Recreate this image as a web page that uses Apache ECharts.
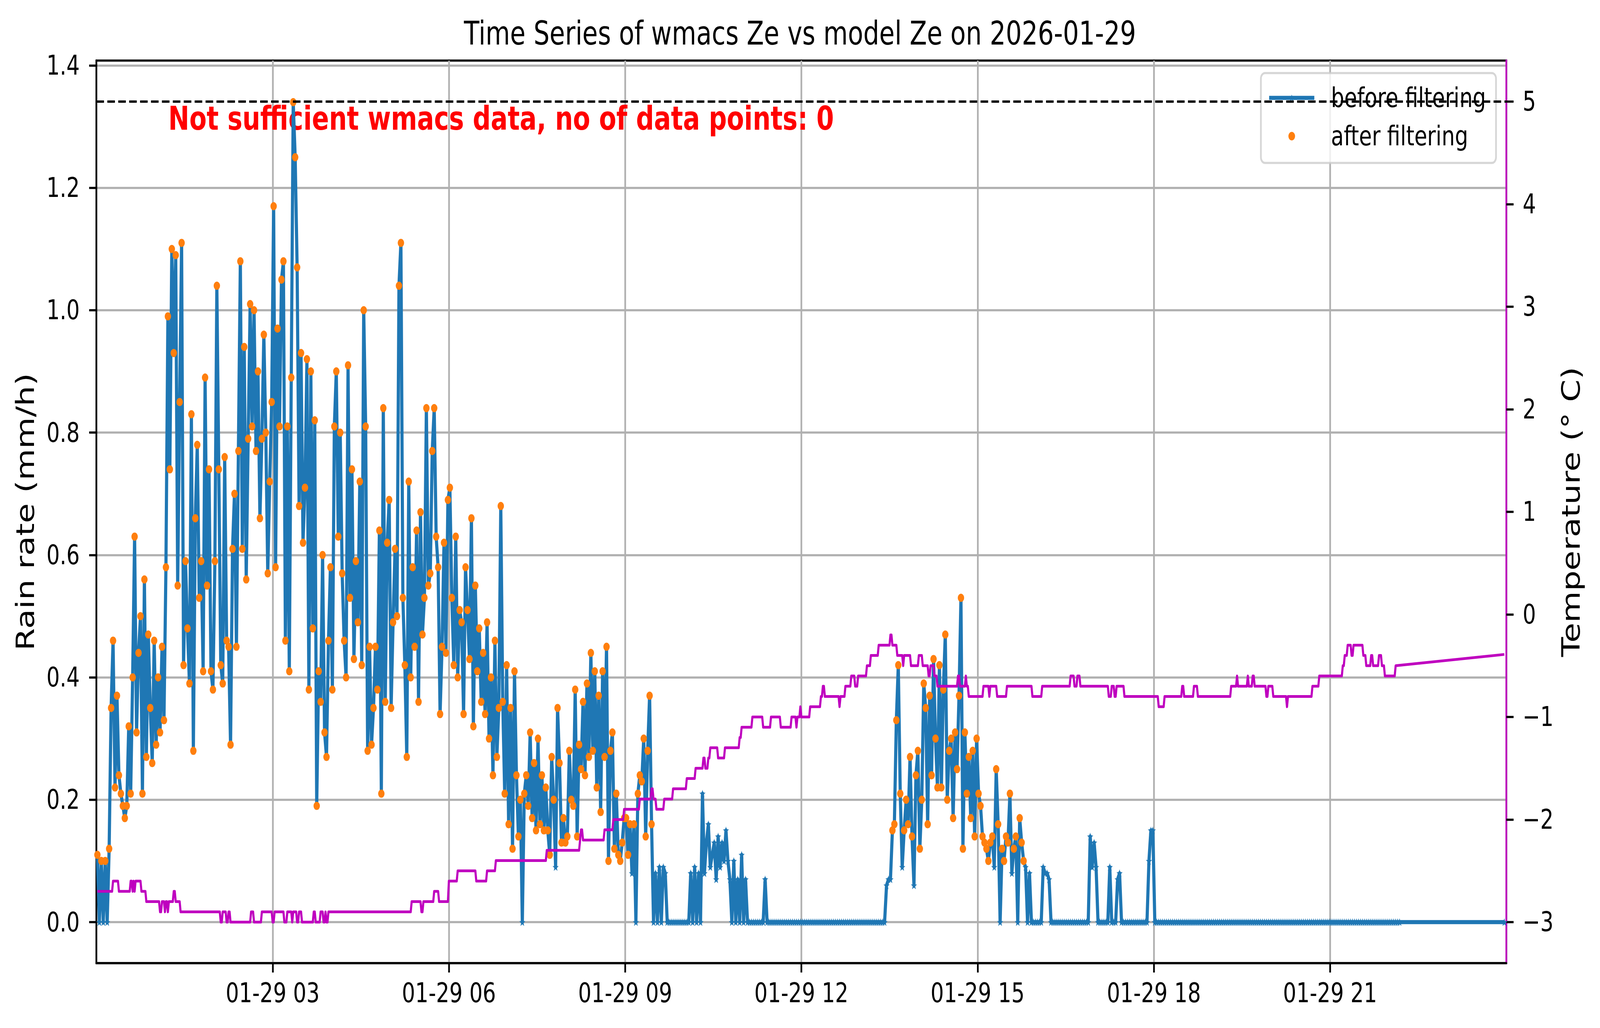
<!DOCTYPE html>
<html>
<head>
<meta charset="utf-8">
<title>wmacs Ze vs model Ze</title>
<script src="https://cdn.jsdelivr.net/npm/echarts@6/dist/echarts.min.js"></script>
<style>
  html, body { margin: 0; padding: 0; background: #fff; overflow: hidden; }
  #main { width: 5277px; height: 2631px; transform-origin: 0 0; }
</style>
</head>
<body>
<div id="main"></div>
<script>
// rain rate (mm/h), one sample every 2 minutes starting 00:01
const rainStart = '00:01';
const rainStepMin = 2;
const rainValues = [
  // 00:01 - 02:59
  0.11, 0, 0.10, 0, 0.10, 0, 0.12, 0.35, 0.46, 0.22,
  0.37, 0.24, 0.21, 0.19, 0.17, 0.19, 0.32, 0.21, 0.40, 0.63,
  0.31, 0.44, 0.50, 0.21, 0.56, 0.27, 0.47, 0.35, 0.26, 0.46,
  0.29, 0.40, 0.31, 0.45, 0.33, 0.58, 0.99, 0.74, 1.10, 0.93,
  1.09, 0.55, 0.85, 1.11, 0.42, 0.59, 0.48, 0.39, 0.83, 0.28,
  0.66, 0.78, 0.53, 0.59, 0.41, 0.89, 0.55, 0.74, 0.41, 0.38,
  0.59, 1.04, 0.74, 0.42, 0.39, 0.76, 0.46, 0.45, 0.29, 0.61,
  0.70, 0.45, 0.77, 1.08, 0.61, 0.94, 0.56, 0.79, 1.01, 0.81,
  1.00, 0.77, 0.90, 0.66, 0.79, 0.96, 0.80, 0.57, 0.72, 0.85,
  // 03:01 - 05:59
  1.17, 0.58, 0.97, 0.81, 1.05, 1.08, 0.46, 0.81, 0.41, 0.89,
  1.34, 1.25, 1.07, 0.68, 0.93, 0.62, 0.71, 0.92, 0.38, 0.90,
  0.48, 0.82, 0.19, 0.41, 0.36, 0.60, 0.31, 0.27, 0.46, 0.58,
  0.38, 0.81, 0.90, 0.63, 0.80, 0.57, 0.46, 0.40, 0.91, 0.53,
  0.74, 0.43, 0.59, 0.49, 0.72, 0.42, 1.00, 0.81, 0.28, 0.45,
  0.29, 0.35, 0.45, 0.38, 0.64, 0.21, 0.84, 0.36, 0.62, 0.69,
  0.35, 0.49, 0.61, 0.50, 1.04, 1.11, 0.53, 0.42, 0.27, 0.72,
  0.40, 0.58, 0.45, 0.64, 0.36, 0.67, 0.47, 0.53, 0.84, 0.55,
  0.57, 0.77, 0.84, 0.63, 0.58, 0.34, 0.45, 0.62, 0.44, 0.69,
  // 06:01 - 08:59
  0.71, 0.53, 0.42, 0.63, 0.40, 0.51, 0.49, 0.34, 0.58, 0.51,
  0.43, 0.66, 0.32, 0.55, 0.41, 0.48, 0.36, 0.44, 0.34, 0.49,
  0.30, 0.40, 0.24, 0.46, 0.27, 0.35, 0.68, 0.36, 0.21, 0.42,
  0.16, 0.35, 0.12, 0.41, 0.24, 0.14, 0.20, 0, 0.21, 0.24,
  0.19, 0.31, 0.17, 0.26, 0.15, 0.30, 0.16, 0.24, 0.15, 0.22,
  0.15, 0.11, 0.27, 0.20, 0.09, 0.35, 0.26, 0.13, 0.17, 0.13,
  0.14, 0.28, 0.20, 0.19, 0.38, 0.14, 0.29, 0.25, 0.36, 0.24,
  0.39, 0.27, 0.44, 0.28, 0.41, 0.22, 0.37, 0.18, 0.41, 0.27,
  0.45, 0.10, 0.28, 0.31, 0.12, 0.21, 0.11, 0.10, 0.13, 0.17,
  // 09:01 - 11:39
  0.17, 0.11, 0.16, 0.08, 0.16, 0, 0.21, 0.24, 0.23, 0.30,
  0.14, 0.28, 0.37, 0.16, 0, 0.08, 0, 0.09, 0, 0.09,
  0.08, 0, 0, 0, 0, 0, 0, 0, 0, 0,
  0, 0, 0, 0.08, 0, 0.09, 0, 0.08, 0, 0.21,
  0.08, 0.13, 0.16, 0.09, 0.11, 0.13, 0.07, 0.14, 0.09, 0.13,
  0.10, 0.15, 0.10, 0.07, 0, 0.10, 0, 0.07, 0, 0.11,
  0, 0.07, 0, 0, 0, 0, 0, 0, 0, 0,
  0, 0.07, 0, 0, 0, 0, 0, 0, 0, 0,
  // 11:41 - 13:25
  0, 0, 0, 0, 0, 0, 0, 0, 0, 0,
  0, 0, 0, 0, 0, 0, 0, 0, 0, 0,
  0, 0, 0, 0, 0, 0, 0, 0, 0, 0,
  0, 0, 0, 0, 0, 0, 0, 0, 0, 0,
  0, 0, 0, 0, 0, 0, 0, 0, 0, 0,
  0, 0, 0,
  // 13:27 - 16:25
  0.06, 0.07, 0.07, 0.15, 0.16, 0.33, 0.42, 0.21, 0.09, 0.15,
  0.20, 0.16, 0.27, 0.14, 0.06, 0.24, 0.28, 0.12, 0.20, 0.39,
  0.35, 0.16, 0.37, 0.24, 0.43, 0.30, 0.22, 0.42, 0.22, 0.38,
  0.47, 0.20, 0.28, 0.30, 0.17, 0.31, 0.25, 0.37, 0.53, 0.12,
  0.31, 0.21, 0.27, 0.17, 0.28, 0.14, 0.30, 0.21, 0.19, 0.14,
  0.13, 0.12, 0.10, 0.13, 0.14, 0.09, 0.25, 0.16, 0, 0.12,
  0.10, 0.14, 0.13, 0.21, 0.08, 0.12, 0.14, 0, 0.17, 0.13,
  0.10, 0.09, 0, 0.08, 0, 0, 0, 0, 0, 0,
  0.09, 0.08, 0.08, 0.07, 0, 0, 0, 0, 0, 0,
  // 16:27 - 16:53
  0, 0, 0, 0, 0, 0, 0, 0, 0, 0, 0, 0, 0, 0,
  // 16:55 - 18:13
  0.14, 0.09, 0.13, 0.09, 0, 0, 0, 0, 0, 0,
  0.09, 0, 0, 0, 0.07, 0.08, 0, 0, 0, 0,
  0, 0, 0, 0, 0, 0, 0, 0, 0, 0,
  0.10, 0.15, 0.15, 0, 0, 0, 0, 0, 0, 0,
  // 18:15 - 22:11
  0, 0, 0, 0, 0, 0, 0, 0, 0, 0,
  0, 0, 0, 0, 0, 0, 0, 0, 0, 0,
  0, 0, 0, 0, 0, 0, 0, 0, 0, 0,
  0, 0, 0, 0, 0, 0, 0, 0, 0, 0,
  0, 0, 0, 0, 0, 0, 0, 0, 0, 0,
  0, 0, 0, 0, 0, 0, 0, 0, 0, 0,
  0, 0, 0, 0, 0, 0, 0, 0, 0, 0,
  0, 0, 0, 0, 0, 0, 0, 0, 0, 0,
  0, 0, 0, 0, 0, 0, 0, 0, 0, 0,
  0, 0, 0, 0, 0, 0, 0, 0, 0, 0,
  0, 0, 0, 0, 0, 0, 0, 0, 0, 0,
  0, 0, 0, 0, 0, 0, 0, 0, 0
];
const rainLast = ['23:58', 0];

// points kept by the filter
const keepWindows = [['00:00', '09:36'], ['13:32', '15:50']];
const keepMin = 0.1;

// temperature (°C): time where the reading changes, and the new reading
const tempTimes = [
  '00:01', '00:17', '00:23', '00:35', '00:37', '00:38', '00:39', '00:40', '00:46', '00:51',
  '01:05', '01:07', '01:10', '01:11', '01:13', '01:14', '01:19', '01:21', '01:26', '02:07',
  '02:09', '02:13', '02:15', '02:17', '02:38', '02:41', '02:49', '03:00', '03:02', '03:12',
  '03:15', '03:20', '03:21', '03:25', '03:27', '03:30', '03:42', '03:44', '03:49', '03:52',
  '03:54', '03:55', '03:57', '05:22', '05:32', '05:34', '05:45', '05:50', '06:00', '06:09',
  '06:28', '06:39', '06:48', '07:40', '08:14', '08:15', '08:17', '08:39', '08:48', '08:59',
  '09:15', '09:27', '09:29', '09:32', '09:40', '09:49', '10:03', '10:12', '10:20', '10:22',
  '10:25', '10:27', '10:35', '10:42', '10:57', '10:59', '11:10', '11:21', '11:29', '11:39',
  '11:50', '11:55', '11:56', '11:59', '12:00', '12:09', '12:20', '12:22', '12:24', '12:39',
  '12:40', '12:45', '12:51', '12:55', '12:58', '13:07', '13:11', '13:19', '13:31', '13:33',
  '13:38', '13:44', '13:45', '13:52', '14:00', '14:04', '14:10', '14:12', '14:16', '14:19',
  '14:40', '14:42', '14:48', '14:49', '14:51', '15:06', '15:12', '15:13', '15:20', '15:30',
  '15:56', '16:06', '16:35', '16:39', '16:42', '16:45', '17:14', '17:17', '17:20', '17:22',
  '17:30', '18:05', '18:11', '18:29', '18:31', '18:41', '18:45', '19:19', '19:25', '19:26',
  '19:36', '19:37', '19:41', '19:43', '19:55', '19:57', '20:02', '20:16', '20:17', '20:42',
  '20:49', '21:13', '21:15', '21:18', '21:22', '21:24', '21:34', '21:37', '21:42', '21:44',
  '21:50', '21:53', '21:56', '22:07'
];
const tempValues = [
  -2.7, -2.6, -2.7, -2.6, -2.7, -2.6, -2.7, -2.6, -2.7, -2.8,
  -2.9, -2.8, -2.9, -2.8, -2.9, -2.8, -2.7, -2.8, -2.9, -3.0,
  -2.9, -3.0, -2.9, -3.0, -2.9, -3.0, -2.9, -3.0, -2.9, -3.0,
  -2.9, -3.0, -2.9, -3.0, -2.9, -3.0, -2.9, -3.0, -2.9, -3.0,
  -2.9, -3.0, -2.9, -2.8, -2.9, -2.8, -2.7, -2.8, -2.6, -2.5,
  -2.6, -2.5, -2.4, -2.3, -2.2, -2.1, -2.2, -2.1, -2.0, -1.9,
  -1.8, -1.7, -1.8, -1.9, -1.8, -1.7, -1.6, -1.5, -1.4, -1.5,
  -1.4, -1.3, -1.4, -1.3, -1.2, -1.1, -1.0, -1.1, -1.0, -1.1,
  -1.0, -1.1, -1.0, -0.9, -1.0, -0.9, -0.8, -0.7, -0.8, -0.9,
  -0.8, -0.7, -0.6, -0.7, -0.6, -0.5, -0.4, -0.3, -0.2, -0.3,
  -0.4, -0.5, -0.4, -0.5, -0.4, -0.5, -0.6, -0.5, -0.6, -0.7,
  -0.6, -0.7, -0.6, -0.7, -0.8, -0.7, -0.8, -0.7, -0.8, -0.7,
  -0.8, -0.7, -0.6, -0.7, -0.6, -0.7, -0.8, -0.7, -0.8, -0.7,
  -0.8, -0.9, -0.8, -0.7, -0.8, -0.7, -0.8, -0.7, -0.6, -0.7,
  -0.6, -0.7, -0.6, -0.7, -0.8, -0.7, -0.8, -0.9, -0.8, -0.7,
  -0.6, -0.5, -0.4, -0.3, -0.4, -0.3, -0.4, -0.5, -0.4, -0.5,
  -0.4, -0.5, -0.6, -0.5
];
const tempLast = ['23:58', -0.39];
const tempLimit = 5;

// axes
const dayLabel = '01-29';
const xTicks = [3, 6, 9, 12, 15, 18, 21];
const rainTicks = [0, 0.2, 0.4, 0.6, 0.8, 1.0, 1.2, 1.4];
const tempTicks = [-3, -2, -1, 0, 1, 2, 3, 4, 5];

const FONT = '"DejaVu Sans", sans-serif';
const FIG_W = 5277, FIG_H = 2631;

function toHours(s) {
  const parts = s.split(':');
  return Number(parts[0]) + Number(parts[1]) / 60;
}

const rainPts = rainValues.map((v, i) => [toHours(rainStart) + i * rainStepMin / 60, v]);
rainPts.push([toHours(rainLast[0]), rainLast[1]]);

const keptPts = rainPts.filter(pt => pt[1] >= keepMin &&
  keepWindows.some(w => pt[0] >= toHours(w[0]) && pt[0] <= toHours(w[1])));

// readings are held until the minute before they change
const tempPts = [];
tempTimes.forEach((t, i) => {
  const h = toHours(t);
  if (i > 0) {
    const hold = h - 1 / 60;
    if (hold > toHours(tempTimes[i - 1]) + 1e-6) tempPts.push([hold, tempValues[i - 1]]);
  }
  tempPts.push([h, tempValues[i]]);
});
tempPts.push([toHours(tempLast[0]), tempLast[1]]);

const STAR = 'path://M0,-10L2.35,-3.24L9.51,-3.09L3.8,1.24L5.88,8.09L0,4L-5.88,8.09L-3.8,1.24L-9.51,-3.09L-2.35,-3.24Z';

// the figure is laid out at its own size and fitted to whatever window we get
const dom = document.getElementById('main');
dom.style.transform = 'scale(' + (window.innerWidth / FIG_W) + ',' + (window.innerHeight / FIG_H) + ')';
const chart = echarts.init(dom, null, { renderer: 'svg', width: FIG_W, height: FIG_H });

const tickStyle = { color: '#000', width: 5.6 };
const gridStyle = { color: '#b0b0b0', width: 5.6 };

chart.setOption({
  animation: false,
  backgroundColor: '#ffffff',
  title: {
    text: 'Time Series of wmacs Ze vs model Ze on 2026-01-29',
    left: 'center',
    top: 44,
    padding: 0,
    textStyle: { fontFamily: FONT, fontSize: 83, fontWeight: 'normal', color: '#000', lineHeight: 83 }
  },
  grid: {
    left: 318, right: 309, top: 155, bottom: 166,
    show: true, borderColor: '#000', borderWidth: 5.6, backgroundColor: 'transparent'
  },
  legend: {
    data: ['before filtering', 'after filtering'],
    orient: 'vertical',
    right: 343,
    top: 187,
    selectedMode: false,
    backgroundColor: 'rgba(255,255,255,0.8)',
    borderColor: 'rgba(204,204,204,0.8)',
    borderWidth: 5.6,
    borderRadius: 14,
    padding: [29, 33, 34, 22],
    itemWidth: 149,
    itemHeight: 22,
    itemGap: 29,
    lineStyle: { width: 10.4 },
    textStyle: { fontFamily: FONT, fontSize: 69, color: '#000', lineHeight: 69, padding: [0, 0, 0, 50] }
  },
  xAxis: {
    type: 'value',
    min: 0,
    max: 24,
    axisLine: { show: true, onZero: false, lineStyle: tickStyle },
    axisTick: { show: true, customValues: xTicks, length: 24, lineStyle: tickStyle },
    axisLabel: {
      customValues: xTicks,
      formatter: v => dayLabel + ' ' + String(Math.round(v)).padStart(2, '0'),
      fontFamily: FONT, fontSize: 69, color: '#000', margin: 42, lineHeight: 69
    },
    splitLine: { show: true, lineStyle: gridStyle }
  },
  yAxis: [
    {
      type: 'value',
      position: 'left',
      min: -0.067,
      max: 1.408,
      axisLine: { show: true, onZero: false, lineStyle: tickStyle },
      axisTick: { show: true, customValues: rainTicks, length: 24, lineStyle: tickStyle },
      axisLabel: {
        customValues: rainTicks,
        formatter: v => v.toFixed(1),
        fontFamily: FONT, fontSize: 69, color: '#000', margin: 55
      },
      splitLine: { show: true, lineStyle: gridStyle }
    },
    {
      type: 'value',
      position: 'right',
      min: -3.4,
      max: 5.4,
      axisLine: { show: true, onZero: false, lineStyle: { color: '#bf00bf', width: 5.6 } },
      axisTick: { show: true, customValues: tempTicks, length: 24, lineStyle: tickStyle },
      axisLabel: {
        customValues: tempTicks,
        formatter: v => (v < 0 ? '\u2212' : '') + Math.abs(v),
        fontFamily: FONT, fontSize: 69, color: '#000', margin: 54
      },
      splitLine: { show: false }
    }
  ],
  graphic: [
    {
      type: 'text', x: 84, y: 1310, rotation: Math.PI / 2, z: 1,
      style: { text: 'Rain rate (mm/h)', font: '83px "DejaVu Sans"', fill: '#000', align: 'center', verticalAlign: 'middle' }
    },
    {
      type: 'text', x: 5181, y: 1310, rotation: Math.PI / 2, z: 1,
      style: { text: 'Temperature (\u00b0 C)', font: '83px "DejaVu Sans"', fill: '#000', align: 'center', verticalAlign: 'middle' }
    },
    {
      type: 'text', x: 555, y: 304, z: 1,
      style: { text: 'Not sufficient wmacs data, no of data points: 0', font: 'bold 83px "DejaVu Sans"', fill: '#ff0000', align: 'left', verticalAlign: 'middle' }
    }
  ],
  series: [
    {
      name: 'before filtering',
      type: 'line',
      data: rainPts,
      yAxisIndex: 0,
      symbol: STAR,
      symbolSize: 20,
      showSymbol: true,
      lineStyle: { color: '#1f77b4', width: 10.4, join: 'round' },
      itemStyle: { color: '#1f77b4' },
      emphasis: { disabled: true },
      z: 2
    },
    {
      name: 'after filtering',
      type: 'scatter',
      data: keptPts,
      yAxisIndex: 0,
      symbol: 'circle',
      symbolSize: 21,
      itemStyle: { color: '#ff7f0e', opacity: 1 },
      emphasis: { disabled: true },
      z: 3
    },
    {
      name: 'Temperature',
      type: 'line',
      data: tempPts,
      yAxisIndex: 1,
      symbol: 'none',
      showSymbol: false,
      lineStyle: { color: '#bf00bf', width: 7, join: 'round' },
      emphasis: { disabled: true },
      z: 5,
      markLine: {
        silent: true,
        symbol: ['none', 'none'],
        label: { show: false },
        lineStyle: { color: '#000', width: 6, type: [25, 11] },
        data: [{ yAxis: tempLimit }],
        z: 10
      }
    }
  ]
});
</script>
</body>
</html>
